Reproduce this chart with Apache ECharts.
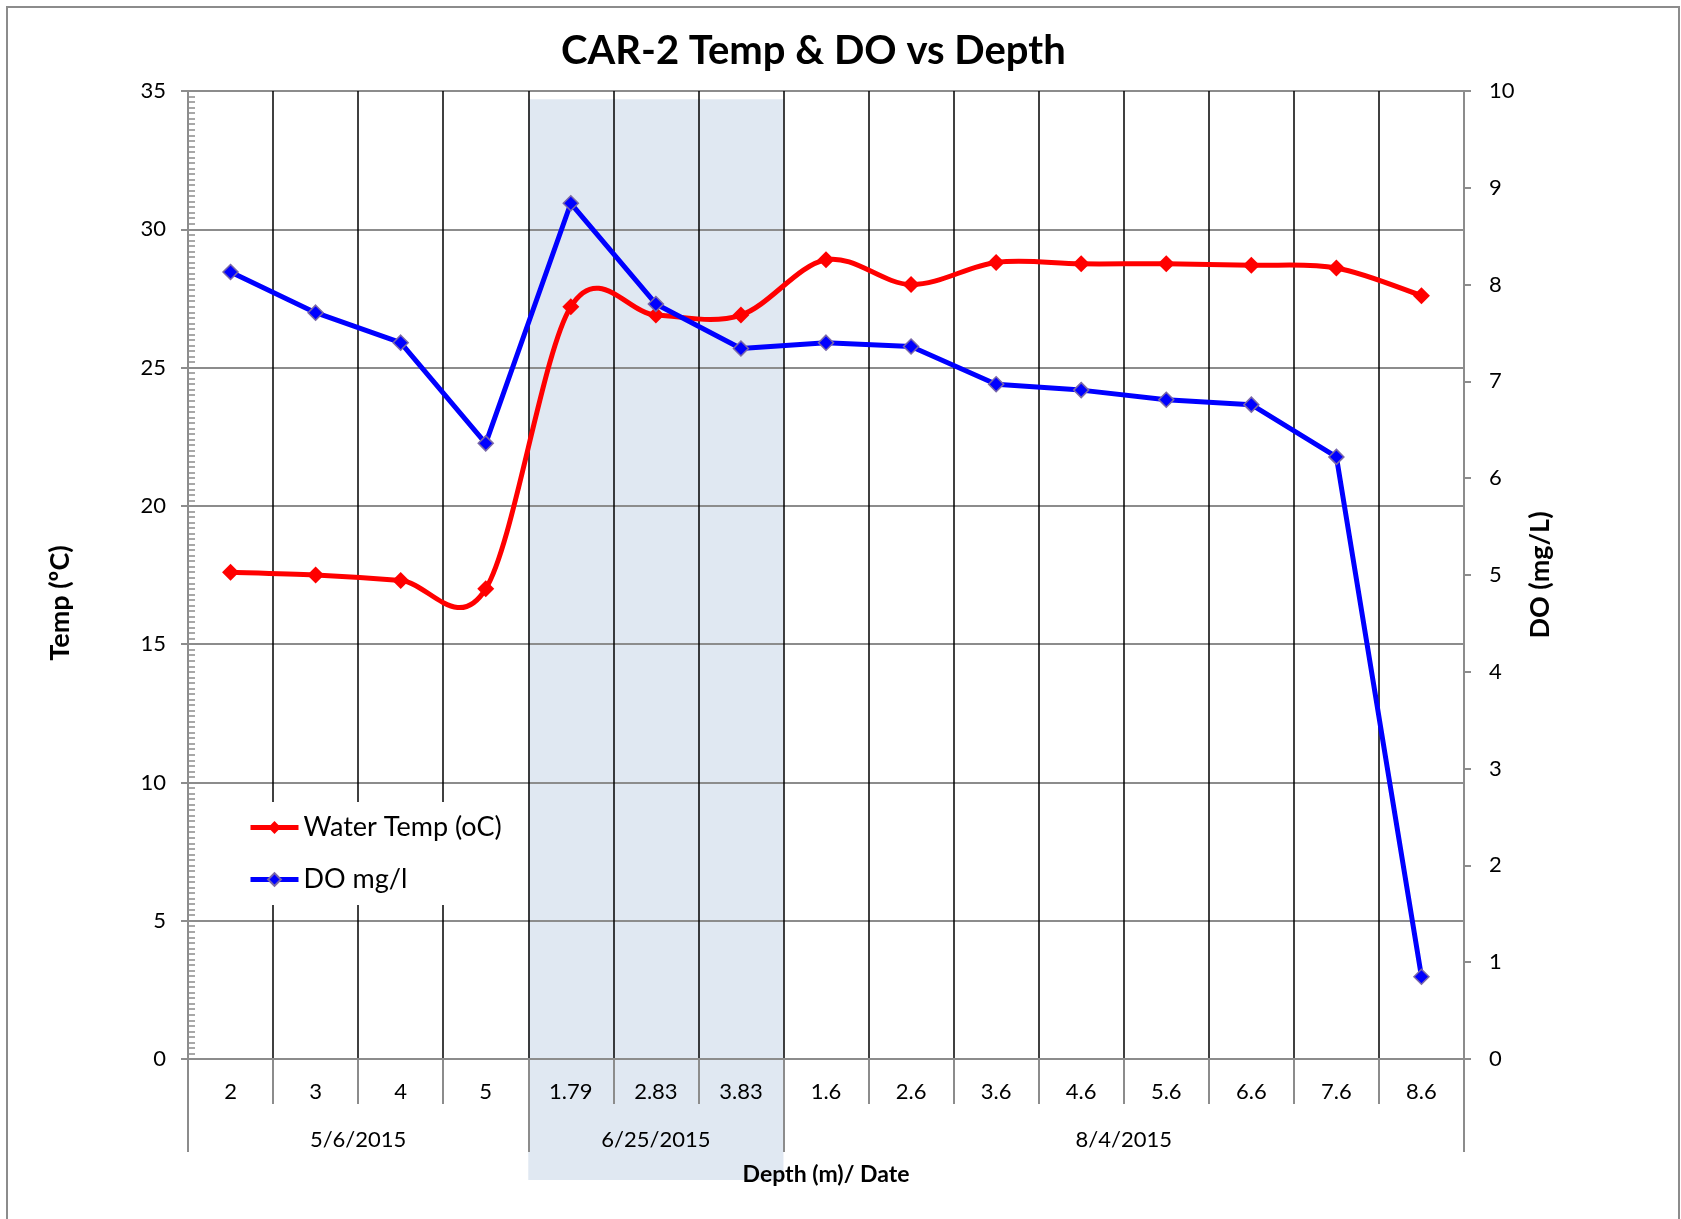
<!DOCTYPE html>
<html>
<head>
<meta charset="utf-8">
<title>CAR-2 Temp & DO vs Depth</title>
<script src="https://cdn.jsdelivr.net/npm/echarts@6/dist/echarts.min.js"></script>
<style>
  html, body { margin: 0; padding: 0; background: #fff; }
  #chart { width: 1681px; height: 1219px; }
</style>
</head>
<body>
<div id="chart"></div>
<script>
// depth (m) at each sample, grouped by sampling date
const depthLabels = ['2', '3', '4', '5', '1.79', '2.83', '3.83', '1.6', '2.6', '3.6', '4.6', '5.6', '6.6', '7.6', '8.6']
const waterTemp = [17.6, 17.5, 17.3, 17.0, 27.2, 26.9, 26.9, 28.9, 28.0, 28.8, 28.75, 28.75, 28.7, 28.6, 27.6]
const doMgL = [8.13, 7.71, 7.40, 6.36, 8.84, 7.80, 7.34, 7.40, 7.36, 6.97, 6.91, 6.81, 6.76, 6.22, 0.85]
const dateLabels = ['5/6/2015', '6/25/2015', '8/4/2015']
const dateSpans = [4, 3, 8]
const shadedDate = 1 // 6/25/2015 is highlighted

const font = 'Lato, "Open Sans", sans-serif'
const gray = '#8c8c8c'
const red = '#ff0000'
const blue = '#0000ff'

// group boundaries and centres on a 0..n scale
const bounds = [0]
dateSpans.forEach(n => bounds.push(bounds[bounds.length - 1] + n))
const centers = dateSpans.map((n, i) => bounds[i] + n / 2)

// excel-like smoothed segment between point i and i+1 (catmull-rom, 1/6)
function smoothSegment(params, api) {
  const i = params.dataIndex
  const n = waterTemp.length
  if (i >= n - 1) return null
  const pt = k => {
    const j = Math.max(0, Math.min(n - 1, k))
    return api.coord([j, waterTemp[j]])
  }
  const p0 = pt(i - 1), p1 = pt(i), p2 = pt(i + 1), p3 = pt(i + 2)
  return {
    type: 'bezierCurve',
    shape: {
      x1: p1[0], y1: p1[1],
      cpx1: p1[0] + (p2[0] - p0[0]) / 6, cpy1: p1[1] + (p2[1] - p0[1]) / 6,
      cpx2: p2[0] - (p3[0] - p1[0]) / 6, cpy2: p2[1] - (p3[1] - p1[1]) / 6,
      x2: p2[0], y2: p2[1]
    },
    style: { stroke: red, lineWidth: 5, fill: null, lineCap: 'round' }
  }
}

const chart = echarts.init(document.getElementById('chart'))

chart.setOption({
  animation: false,
  backgroundColor: '#fff',
  title: {
    text: 'CAR-2 Temp & DO vs Depth',
    left: 556,
    top: 26,
    textStyle: { fontFamily: font, fontSize: 40, fontWeight: 'bold', color: '#000' }
  },
  grid: { left: 188, right: 217, top: 91, bottom: 160 },
  legend: {
    orient: 'vertical',
    left: 234,
    top: 802,
    padding: [12, 14, 12, 14],
    itemGap: 25,
    itemWidth: 48,
    itemHeight: 16,
    backgroundColor: '#fff',
    textStyle: { fontFamily: font, fontSize: 27, color: '#000' },
    data: [
      { name: 'Water Temp (oC)', lineStyle: { color: red, width: 5, opacity: 1 } },
      { name: 'DO mg/l', lineStyle: { color: blue, width: 5, opacity: 1 } }
    ]
  },
  xAxis: [{
    type: 'category',
    data: depthLabels,
    boundaryGap: true,
    position: 'bottom',
    axisLine: { lineStyle: { color: gray, width: 2 } },
    axisTick: { show: true, interval: 0, length: 45, lineStyle: { color: gray, width: 2 } },
    axisLabel: { interval: 0, margin: 22, fontFamily: font, fontSize: 22, color: '#000' },
    splitLine: { show: true, interval: 0, lineStyle: { color: '#000', width: 1.5 } },
    name: 'Depth (m)/ Date',
    nameLocation: 'middle',
    nameGap: 104,
    nameTextStyle: { fontFamily: font, fontSize: 23, fontWeight: 'bold', color: '#000' }
  }, {
    type: 'value',
    min: 0,
    max: bounds[bounds.length - 1],
    position: 'bottom',
    axisLine: { show: false },
    axisTick: { show: true, customValues: bounds, length: 93, lineStyle: { color: gray, width: 2 } },
    axisLabel: {
      customValues: centers,
      margin: 70,
      fontFamily: font,
      fontSize: 22,
      color: '#000',
      formatter: v => dateLabels[centers.indexOf(v)] || ''
    },
    splitLine: { show: false }
  }],
  yAxis: [{
    type: 'value',
    min: 0,
    max: 35,
    interval: 5,
    position: 'left',
    axisLine: { show: true, lineStyle: { color: gray, width: 2 } },
    axisTick: { show: true, length: 7, lineStyle: { color: gray, width: 2 } },
    axisLabel: { margin: 22, fontFamily: font, fontSize: 22, color: '#000' },
    splitLine: { show: true, lineStyle: { color: gray, width: 2 } },
    name: 'Temp (ºC)',
    nameLocation: 'middle',
    nameRotate: 90,
    nameGap: 114,
    nameTextStyle: { fontFamily: font, fontSize: 27, fontWeight: 'bold', color: '#000', padding: [0, 56, 0, 0] }
  }, {
    type: 'value',
    min: 0,
    max: 10,
    interval: 1,
    position: 'right',
    axisLine: { show: true, lineStyle: { color: gray, width: 2 } },
    axisTick: { show: true, length: 7, lineStyle: { color: gray, width: 2 } },
    axisLabel: { margin: 25, fontFamily: font, fontSize: 22, color: '#000' },
    splitLine: { show: false },
    name: 'DO (mg/L)',
    nameLocation: 'middle',
    nameRotate: 90,
    nameGap: 63,
    nameTextStyle: { fontFamily: font, fontSize: 27, fontWeight: 'bold', color: '#000' }
  }, {
    // minor ticks on the temperature axis, drawn inside the plot
    type: 'value',
    min: 0,
    max: 35,
    interval: 5,
    position: 'left',
    axisLine: { show: false },
    axisTick: { show: false, inside: true },
    minorTick: { show: true, splitNumber: 25, length: 7, lineStyle: { color: gray, width: 1.5 } },
    axisLabel: { show: false },
    splitLine: { show: false }
  }],
  series: [{
    name: 'Water Temp curve',
    type: 'custom',
    coordinateSystem: 'cartesian2d',
    xAxisIndex: 0,
    yAxisIndex: 0,
    silent: true,
    data: waterTemp.map((v, i) => [i, v]),
    renderItem: smoothSegment
  }, {
    name: 'Water Temp (oC)',
    type: 'line',
    xAxisIndex: 0,
    yAxisIndex: 0,
    data: waterTemp,
    symbol: 'diamond',
    symbolSize: 17,
    lineStyle: { color: red, width: 5, opacity: 0 },
    itemStyle: { color: red }
  }, {
    name: 'DO mg/l',
    type: 'line',
    xAxisIndex: 0,
    yAxisIndex: 1,
    data: doMgL,
    symbol: 'diamond',
    symbolSize: 15,
    lineStyle: { color: blue, width: 5 },
    itemStyle: { color: blue, borderColor: '#7a68a8', borderWidth: 1.5 }
  }]
})

// shaded band behind the highlighted date group, placed through the axis scale
const x0 = chart.convertToPixel({ xAxisIndex: 1 }, bounds[shadedDate])
const x1 = chart.convertToPixel({ xAxisIndex: 1 }, bounds[shadedDate + 1])
const yTop = chart.convertToPixel({ yAxisIndex: 0 }, 34.7)
const yAxisZero = chart.convertToPixel({ yAxisIndex: 0 }, 0)

chart.setOption({
  graphic: [{
    type: 'rect',
    z: -10,
    silent: true,
    shape: { x: x0, y: yTop, width: x1 - x0, height: yAxisZero + 121 - yTop },
    style: { fill: '#e0e8f2' }
  }, {
    type: 'rect',
    z: -10,
    silent: true,
    shape: { x: 7, y: 7, width: 1672, height: 1240 },
    style: { fill: 'none', stroke: '#8c8c8c', lineWidth: 2 }
  }]
})
</script>
</body>
</html>
